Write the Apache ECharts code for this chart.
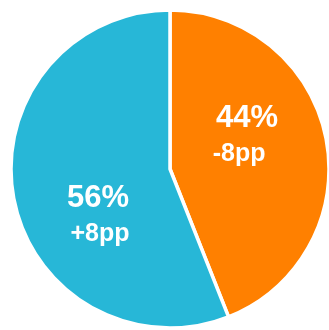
<!DOCTYPE html>
<html>
<head>
<meta charset="utf-8">
<script src="https://cdn.jsdelivr.net/npm/echarts@6/dist/echarts.min.js"></script>
<style>
  html, body { margin: 0; padding: 0; background: #ffffff; }
  #chart { width: 329px; height: 330px; }
</style>
</head>
<body>
<div id="chart"></div>
<script>
// Share of each segment and its change in percentage points
const categories = ['Orange', 'Blue'];
const shares = [44, 56];
const changes = ['-8pp', '+8pp'];
const colors = ['#FF8000', '#27B7D7'];

// Label nudges inside each slice (x, y) and second-line shift
const labelOffsets = [[-4, -18], [9, 31]];
const subShift = [16, -4];

const chart = echarts.init(document.getElementById('chart'), null, { renderer: 'canvas' });

const data = categories.map((name, i) => ({
  name: name,
  value: shares[i],
  itemStyle: { color: colors[i] },
  label: {
    offset: labelOffsets[i],
    rich: {
      a: { fontSize: 31, fontWeight: 'bold', color: '#fff', lineHeight: 38, fontFamily: 'Liberation Sans, Arial, sans-serif' },
      b: {
        fontSize: 25, fontWeight: 'bold', color: '#fff', lineHeight: 34, fontFamily: 'Liberation Sans, Arial, sans-serif',
        padding: subShift[i] > 0 ? [0, subShift[i], 0, 0] : [0, 0, 0, -subShift[i]]
      }
    }
  }
}));

chart.setOption({
  animation: false,
  series: [{
    type: 'pie',
    center: [170, 169],
    radius: [0, 159],
    startAngle: 90,
    clockwise: true,
    itemStyle: { borderColor: '#ffffff', borderWidth: 3.5 },
    label: {
      show: true,
      position: 'inside',
      formatter: p => '{a|' + p.value + '%}\n{b|' + changes[p.dataIndex] + '}'
    },
    labelLine: { show: false },
    emphasis: { disabled: true },
    data: data
  }]
});
</script>
</body>
</html>
